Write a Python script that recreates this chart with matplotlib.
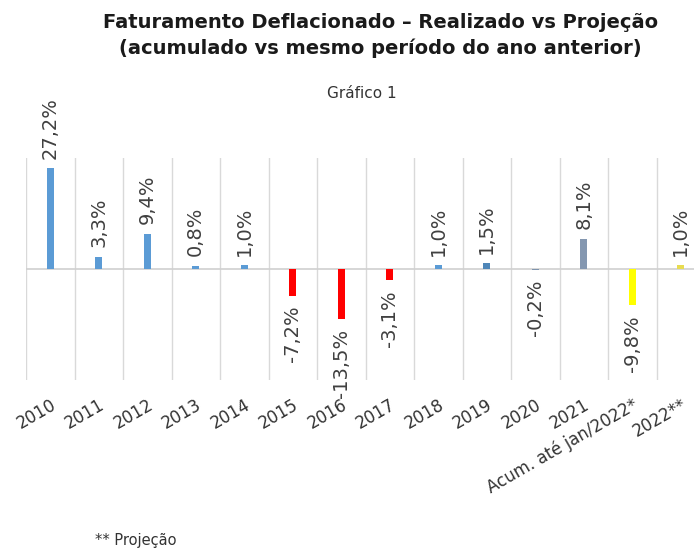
import numpy as np
import matplotlib.pyplot as plt

# Data
categories = ['2010', '2011', '2012', '2013', '2014', '2015', '2016', '2017',
              '2018', '2019', '2020', '2021', 'Acum. até jan/2022*', '2022**']
values = [27.2, 3.3, 9.4, 0.8, 1.0, -7.2, -13.5, -3.1,
          1.0, 1.5, -0.2, 8.1, -9.8, 1.0]

# Bar colours (realizado / queda / 2021 / projeção)
blue = '#5b9bd5'
red = '#ff0000'
slate = '#8497b0'
yellow = '#ffff00'
bar_colors = [blue] * 5 + [red] * 3 + [blue, '#4f86b8', '#7f94ad', slate, yellow, '#e8dc50']

plt.rcParams['font.family'] = 'DejaVu Sans'

fig = plt.figure(figsize=(6.94, 5.51), dpi=100)
ax = fig.add_axes([26 / 694, 1 - 380 / 551, (705 - 26) / 694, 222 / 551])

x = np.arange(len(categories))
ax.bar(x, values, width=0.15, color=bar_colors, zorder=3)

for xi, v in zip(x, values):
    lbl = f"{v:.1f}%".replace('.', ',')
    if v >= 0:
        ax.annotate(lbl, (xi, v), xytext=(0, 7), textcoords='offset points',
                    rotation=90, ha='center', va='bottom', fontsize=14, color='#404040')
    else:
        ax.annotate(lbl, (xi, v), xytext=(0, -7), textcoords='offset points',
                    rotation=90, ha='center', va='top', fontsize=14, color='#404040')

ax.set_xlim(-0.5, len(categories) - 0.5)
ax.set_ylim(-30, 30)
ax.axhline(0, color='#d0d0d0', lw=1.2, zorder=2)

# vertical separators between categories
ax.set_xticks(x - 0.5, minor=True)
ax.grid(True, axis='x', which='minor', color='#d9d9d9', lw=1)
ax.set_xticks(x)
ax.set_xticklabels(categories, rotation=30, ha='right', rotation_mode='anchor',
                   fontsize=12, color='#333333')
ax.tick_params(axis='x', which='both', length=0, pad=11)
ax.set_yticks([])
for s in ax.spines.values():
    s.set_visible(False)

fig.text(0.548, 1 - 22 / 551, 'Faturamento Deflacionado – Realizado vs Projeção',
         ha='center', va='center', fontsize=14, fontweight='bold', color='#1a1a1a')
fig.text(0.548, 1 - 48 / 551, '(acumulado vs mesmo período do ano anterior)',
         ha='center', va='center', fontsize=14, fontweight='bold', color='#1a1a1a')
fig.text(362 / 694, 1 - 93 / 551, 'Gráfico 1', ha='center', va='center',
         fontsize=11, color='#333333')
fig.text(95 / 694, 1 - 541 / 551, '** Projeção', ha='left', va='center',
         fontsize=10.5, color='#333333')

fig.savefig('out.png', dpi=100)
